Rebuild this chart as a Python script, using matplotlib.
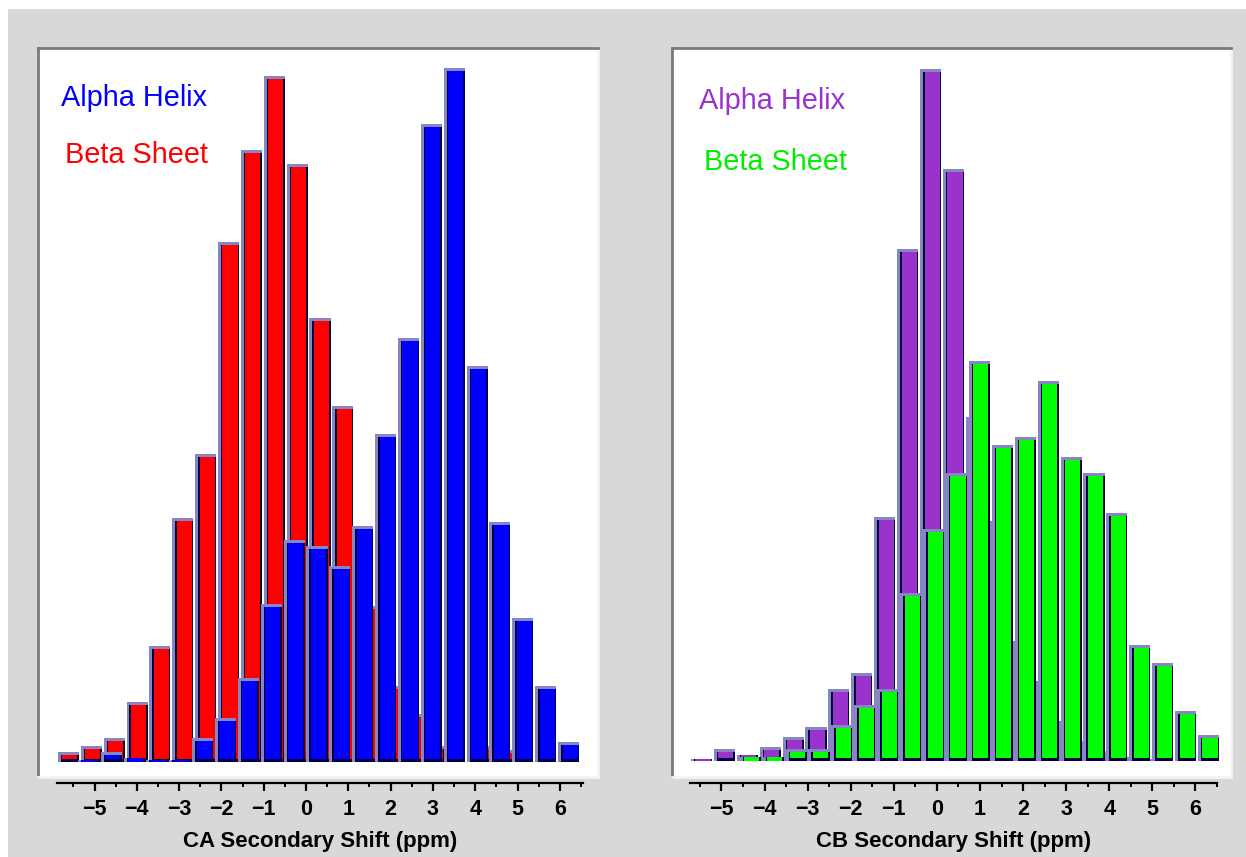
import numpy as np
import matplotlib
matplotlib.use('Agg')
import matplotlib.pyplot as plt
from matplotlib.patches import Rectangle

# histogram bins of secondary chemical shift (ppm), 0.5 ppm wide
bins = np.arange(-5.5, 5.75, 0.5)

# CA secondary shift counts
ca_alpha = [0, 1, 5, 2, 1, 1, 12, 22, 42, 79, 111, 108, 98, 118, 164, 212, 319, 347, 198, 120, 72, 38, 10]
ca_beta = [5, 8, 12, 30, 58, 122, 154, 260, 306, 343, 299, 222, 178, 78, 38, 24, 8, 0, 8, 6, 0, 0, 0]

# CB secondary shift counts
cb_alpha = [1, 6, 3, 7, 12, 17, 36, 44, 122, 256, 346, 296, 172, 120, 60, 40, 20, 10, 5, 2, 1, 0, 0]
cb_beta = [0, 0, 2, 2, 6, 6, 18, 28, 36, 84, 116, 144, 200, 158, 162, 190, 152, 144, 124, 58, 49, 25, 13]

ticks = list(range(-5, 7))

W, H = 1246, 857
GREY = '#d8d8d8'
LIGHT = '#8686c2'
DARK = '#000040'
plt.rcParams['font.family'] = ['Liberation Sans', 'DejaVu Sans']


def fx(x):
    return x / W


def fy(y):
    return 1 - y / H


def bevel_bars(ax, x, h, face, shift=0.0, width=0.46, ex=0.065, ey=1.5):
    # raised-looking bars: light top/left edge, dark right/bottom edge
    x = np.asarray(x) + shift
    h = np.asarray(h, dtype=float)
    thin = h <= 3 * ey
    ax.bar(x, h, width=width, color=LIGHT, linewidth=0)
    ax.bar(x + ex / 2, np.where(thin, h, h - ey), width=width - ex, color=DARK, linewidth=0)
    ax.bar(x + ex / 2, np.where(thin, h, h - 2 * ey), bottom=np.where(thin, 0, ey),
           width=width - 2 * ex, color=face, linewidth=0)


def panel(left, right, top, bottom, base, xlim):
    ax = fig.add_axes([fx(left), fy(bottom), fx(right - left), (bottom - top) / H])
    ax.set_facecolor('white')
    ax.set_xlim(*xlim)
    ax.set_ylim(-(bottom - base) / 2, (base - top) / 2)
    ax.set_xticks([])
    ax.set_yticks([])
    for s in ['top', 'left']:
        ax.spines[s].set_color('#7a7a7a')
        ax.spines[s].set_linewidth(2)
    for s in ['right', 'bottom']:
        ax.spines[s].set_color('#f4f4f4')
        ax.spines[s].set_linewidth(2)
    return ax


def shift_axis(left, right, y, lo, hi, label):
    sx = fig.add_axes([fx(left), fy(y), fx(right - left), 0.0001])
    sx.set_facecolor('none')
    sx.set_xlim(lo, hi)
    sx.set_yticks([])
    for s in ['top', 'left', 'right']:
        sx.spines[s].set_visible(False)
    sx.spines['bottom'].set_linewidth(1.6)
    sx.set_xticks(ticks)
    sx.set_xticks(np.arange(-5.5, 6.6, 1.0), minor=True)
    sx.tick_params(which='major', direction='out', length=5.5, width=1.6, pad=6,
                   labelsize=15.5)
    sx.tick_params(which='minor', direction='out', length=3, width=1.4)
    for t in sx.get_xticklabels():
        t.set_fontweight('bold')
    sx.set_xlabel(label, fontsize=16, fontweight='bold', labelpad=8)
    return sx


fig = plt.figure(figsize=(W / 100, H / 100), dpi=100)
fig.patch.set_facecolor('white')
fig.add_artist(Rectangle((fx(8), 0), 1, fy(9), transform=fig.transFigure,
                         facecolor=GREY, edgecolor='none', zorder=-10))

# CA panel
ax1 = panel(38, 598, 48, 777, 762, (-6.165, 6.078))
bevel_bars(ax1, bins, ca_beta, '#ff0000', shift=0.0)
bevel_bars(ax1, bins, ca_alpha, '#0000ff', shift=-0.065)
fig.text(fx(61), fy(106), 'Alpha Helix', color='#0000ff', fontsize=20.8)
fig.text(fx(65), fy(163), 'Beta Sheet', color='#ff0000', fontsize=20.8)
shift_axis(57, 583, 783, -5.887, 6.548, 'CA Secondary Shift (ppm)')

# CB panel
ax2 = panel(672, 1231, 48, 777, 761, (-6.143, 6.055))
bevel_bars(ax2, bins, cb_alpha, '#9933cc', shift=0.0)
bevel_bars(ax2, bins, cb_beta, '#00ff00', shift=0.065)
fig.text(fx(699), fy(109), 'Alpha Helix', color='#9933cc', fontsize=20.8)
fig.text(fx(704), fy(170), 'Beta Sheet', color='#00ee00', fontsize=20.8)
shift_axis(690, 1217, 783, -5.73, 6.50, 'CB Secondary Shift (ppm)')

fig.savefig('out.png', dpi=100, facecolor=fig.get_facecolor())
